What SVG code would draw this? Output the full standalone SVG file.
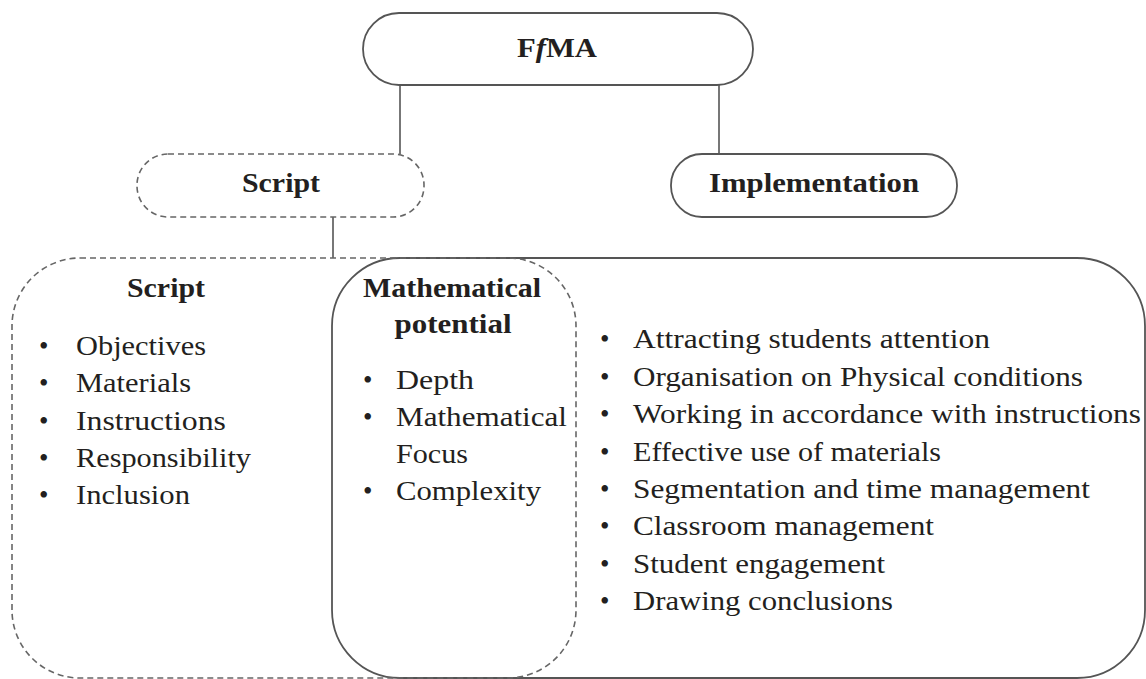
<svg xmlns="http://www.w3.org/2000/svg" width="1146" height="679" viewBox="0 0 1146 679">
<style>
text{font-family:"Liberation Serif","Times New Roman",serif;fill:#231f20;font-size:27px}
.b{font-weight:bold}
.m{text-anchor:middle}
.solid{fill:none;stroke:#555;stroke-width:1.8}
.dash{fill:none;stroke:#666;stroke-width:1.6;stroke-dasharray:6 4}
.conn{stroke:#777;stroke-width:2;fill:none}
</style>
<rect width="1146" height="679" fill="#fff"/>
<g id="connectors">
<line class="conn" x1="400" y1="85" x2="400" y2="154"/>
<line class="conn" x1="719" y1="85" x2="719" y2="154"/>
<line class="conn" x1="333" y1="217" x2="333" y2="258"/>
</g>
<g id="fma">
<rect class="solid" x="363" y="13" width="390" height="72" rx="36"/>
<text class="b m" x="557" y="57" textLength="80" lengthAdjust="spacingAndGlyphs">F<tspan font-style="italic">f</tspan>MA</text>
</g>
<g id="script-small">
<rect class="dash" x="137" y="154" width="287" height="63" rx="31"/>
<text class="b m" x="281" y="192" textLength="78" lengthAdjust="spacingAndGlyphs">Script</text>
</g>
<g id="implementation-small">
<rect class="solid" x="671" y="154" width="286" height="63" rx="31"/>
<text class="b m" x="814" y="192" textLength="210" lengthAdjust="spacingAndGlyphs">Implementation</text>
</g>
<g id="implementation">
<rect class="solid" x="332" y="258" width="813" height="420" rx="68"/>
<text x="600" y="348">•</text><text x="633" y="348" textLength="357" lengthAdjust="spacingAndGlyphs">Attracting students attention</text>
<text x="600" y="386">•</text><text x="633" y="386" textLength="450" lengthAdjust="spacingAndGlyphs">Organisation on Physical conditions</text>
<text x="600" y="423">•</text><text x="633" y="423" textLength="508" lengthAdjust="spacingAndGlyphs">Working in accordance with instructions</text>
<text x="600" y="461">•</text><text x="633" y="461" textLength="308" lengthAdjust="spacingAndGlyphs">Effective use of materials</text>
<text x="600" y="498">•</text><text x="633" y="498" textLength="457" lengthAdjust="spacingAndGlyphs">Segmentation and time management</text>
<text x="600" y="535">•</text><text x="633" y="535" textLength="301" lengthAdjust="spacingAndGlyphs">Classroom management</text>
<text x="600" y="573">•</text><text x="633" y="573" textLength="252" lengthAdjust="spacingAndGlyphs">Student engagement</text>
<text x="600" y="610">•</text><text x="633" y="610" textLength="260" lengthAdjust="spacingAndGlyphs">Drawing conclusions</text>
</g>
<g id="script">
<rect class="dash" x="12" y="258" width="564" height="420" rx="68"/>
<text class="b m" x="166" y="297" textLength="78" lengthAdjust="spacingAndGlyphs">Script</text>
<text x="39" y="355">•</text><text x="76" y="355" textLength="130" lengthAdjust="spacingAndGlyphs">Objectives</text>
<text x="39" y="392">•</text><text x="76" y="392" textLength="115" lengthAdjust="spacingAndGlyphs">Materials</text>
<text x="39" y="430">•</text><text x="76" y="430" textLength="150" lengthAdjust="spacingAndGlyphs">Instructions</text>
<text x="39" y="467">•</text><text x="76" y="467" textLength="175" lengthAdjust="spacingAndGlyphs">Responsibility</text>
<text x="39" y="504">•</text><text x="76" y="504" textLength="114" lengthAdjust="spacingAndGlyphs">Inclusion</text>
</g>
<g id="mathematical-potential">
<text class="b m" x="452" y="297" textLength="178" lengthAdjust="spacingAndGlyphs">Mathematical</text>
<text class="b m" x="453" y="333" textLength="117" lengthAdjust="spacingAndGlyphs">potential</text>
<text x="363" y="389">•</text><text x="396" y="389" textLength="78" lengthAdjust="spacingAndGlyphs">Depth</text>
<text x="363" y="426">•</text><text x="396" y="426" textLength="171" lengthAdjust="spacingAndGlyphs">Mathematical</text>
<text x="396" y="463" textLength="72" lengthAdjust="spacingAndGlyphs">Focus</text>
<text x="363" y="500">•</text><text x="396" y="500" textLength="145" lengthAdjust="spacingAndGlyphs">Complexity</text>
</g>
</svg>
